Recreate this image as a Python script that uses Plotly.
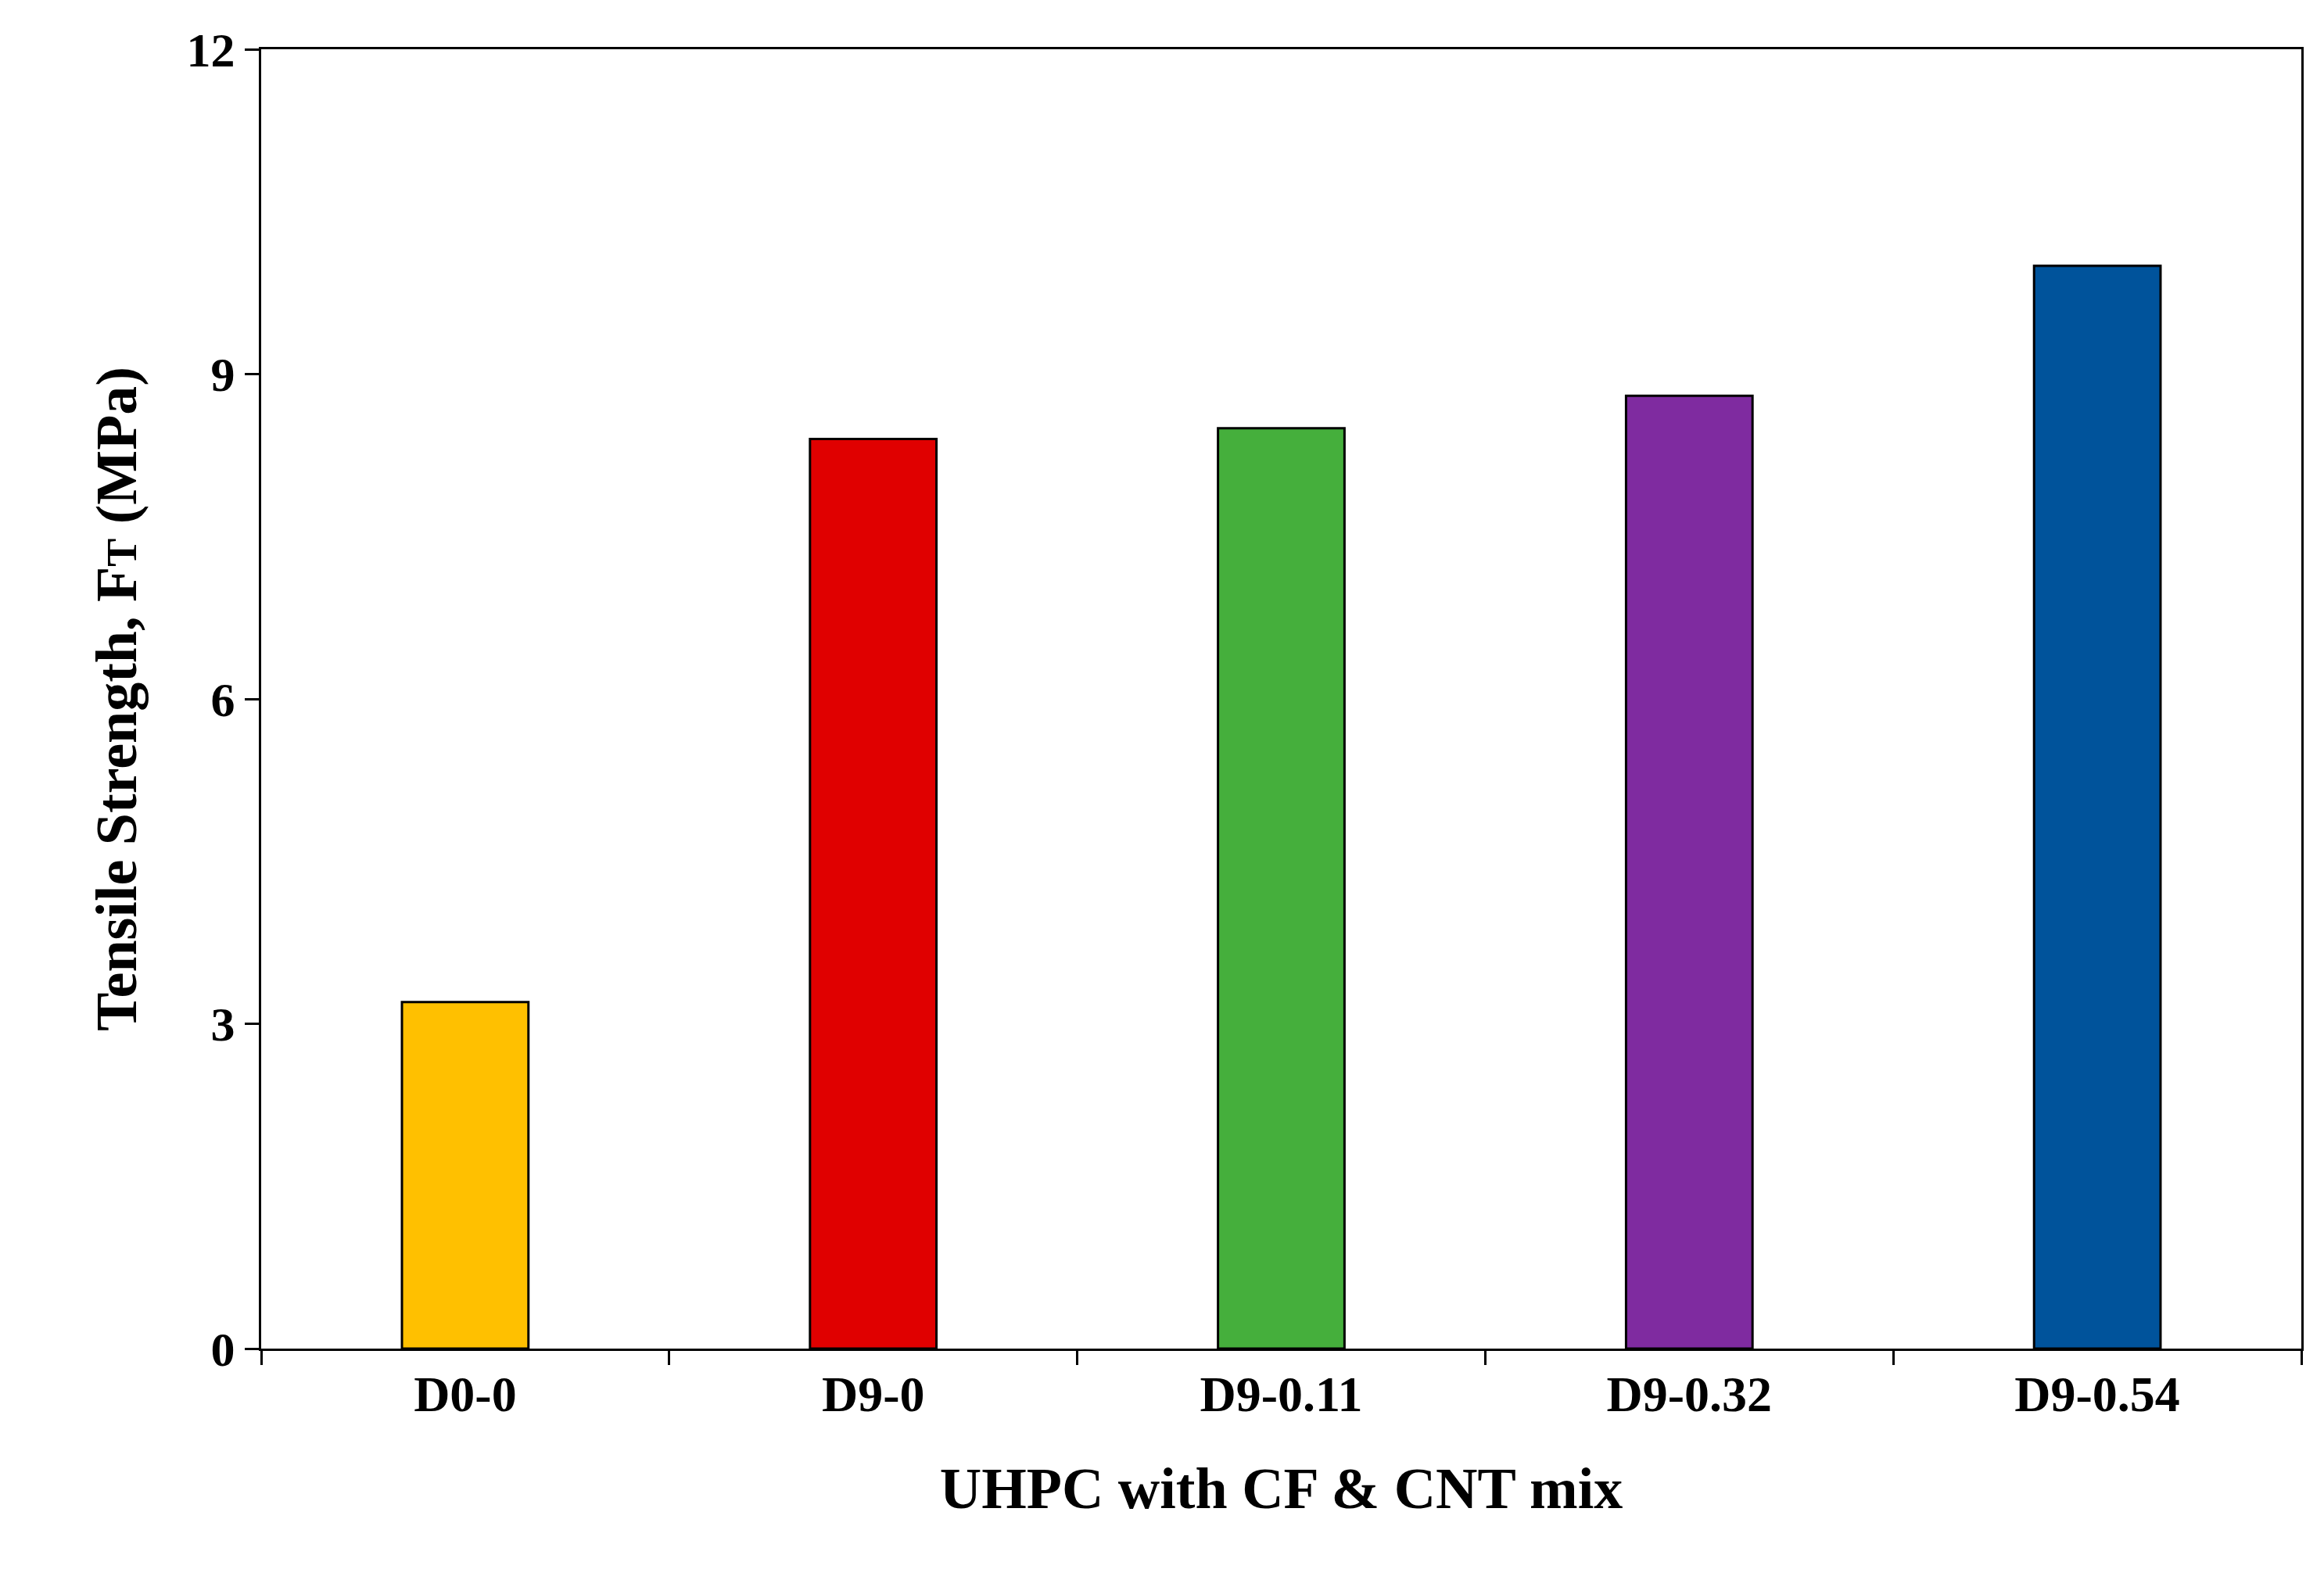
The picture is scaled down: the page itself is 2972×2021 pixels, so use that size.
import plotly.graph_objects as go

categories = ["D0-0", "D9-0", "D9-0.11", "D9-0.32", "D9-0.54"]
values = [3.2, 8.4, 8.5, 8.8, 10.0]
colors = ["#FFC000", "#E00000", "#45AF3C", "#7F2BA0", "#00539B"]
yticks = [0, 3, 6, 9, 12]

font = "Liberation Serif"
fig = go.Figure(go.Bar(x=categories, y=values, marker=dict(color=colors, line=dict(color="black", width=3)), width=0.31))
fig.update_layout(
    width=2972, height=2021, paper_bgcolor="white", plot_bgcolor="white",
    margin=dict(l=326, r=37, t=55, b=304), showlegend=False,
    font=dict(family=font, color="black"),
)
fig.update_xaxes(tickson="boundaries", ticks="outside", ticklen=18, tickwidth=3, tickcolor="black",
                 showline=True, linewidth=3, linecolor="black", mirror=True,
                 tickfont=dict(size=64, family=font, weight="bold"),
                 title=dict(text="<b>UHPC with CF &amp; CNT mix</b>", font=dict(size=74, family=font), standoff=60))
fig.update_yaxes(range=[0, 12], tickvals=yticks, ticks="outside", ticklen=18, tickwidth=3, tickcolor="black",
                 showline=True, linewidth=3, linecolor="black", mirror=True, showgrid=False, zeroline=False,
                 tickfont=dict(size=62, family=font, weight="bold"),
                 title=dict(text="<b>Tensile Strength, F<span style='font-size:54px'>T</span> (MPa)</b>", font=dict(size=74, family=font), standoff=40))
fig.write_html("out.html")
